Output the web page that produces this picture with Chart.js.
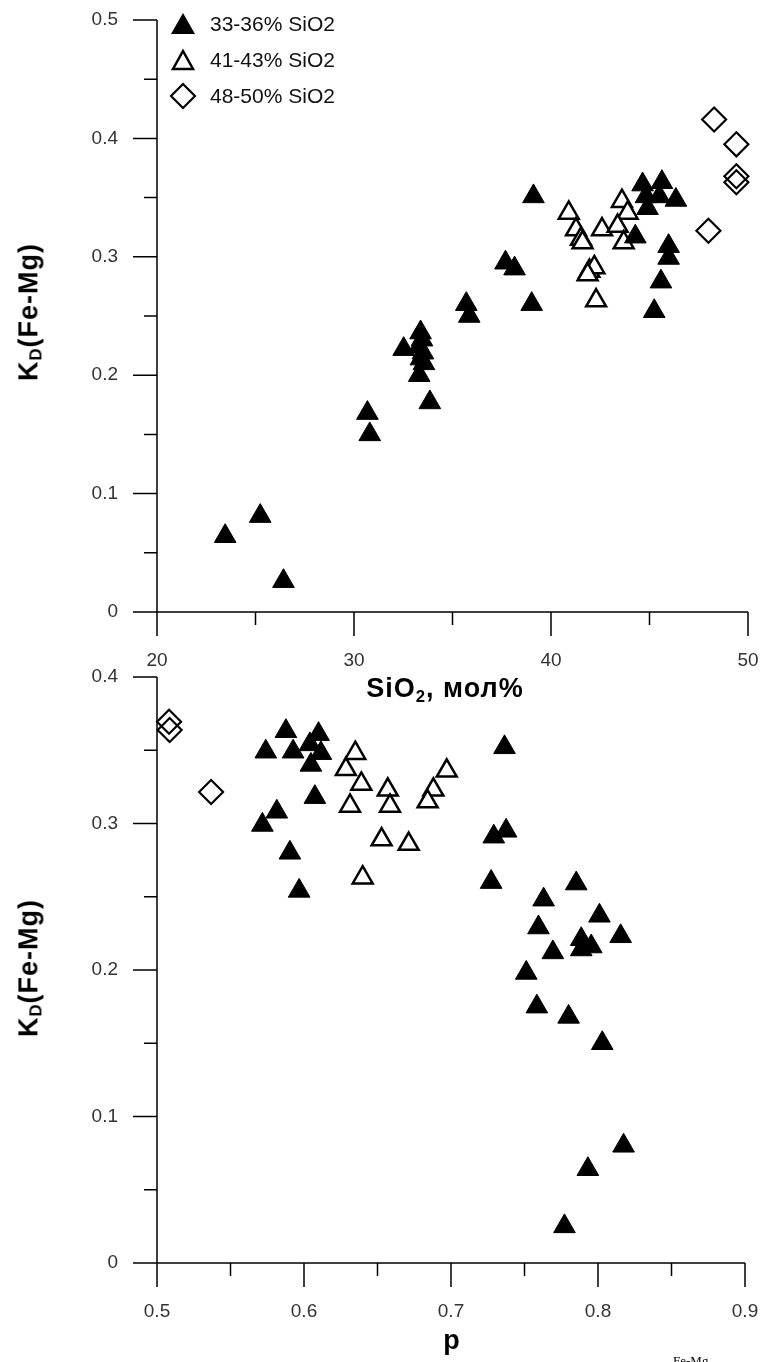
<!DOCTYPE html>
<html>
<head>
<meta charset="utf-8">
<script src="https://cdn.jsdelivr.net/npm/chart.js@4.4.1/dist/chart.umd.min.js"></script>
<style>
  html, body { margin: 0; padding: 0; background: #fff; }
  body { width: 766px; height: 1362px; position: relative; overflow: hidden; font-family: "Liberation Sans", Arial, sans-serif; }
  .wrap { position: absolute; left: 0; width: 766px; }
  .title { position: absolute; font-weight: bold; font-size: 27px; letter-spacing: 1px; color: #000; white-space: nowrap; transform: translate(-50%, -50%); }
  .title.rot { transform: translate(-50%, -50%) rotate(-90deg); }
  .title sub { font-size: 0.62em; vertical-align: -0.25em; }
  .legend { position: absolute; left: 168px; top: 6px; font-size: 21px; color: #111; }
  .legend div { height: 36px; display: flex; align-items: center; }
  .legend svg { width: 30px; height: 30px; margin-right: 12px; }
  .legend sub { font-size: 1em; vertical-align: -0.28em; line-height: 0; }
  .caption { position: absolute; left: 673px; top: 1353px; font-family: "Liberation Serif", serif; font-size: 13px; }
</style>
</head>
<body>
<div class="wrap" style="top:0;height:720px"><canvas id="top-chart"></canvas></div>
<div class="wrap" style="top:650px;height:712px"><canvas id="bottom-chart"></canvas></div>

<div class="legend">
  <div><svg viewBox="0 0 30 30"><polygon points="15,4 27,25 3,25" fill="#000"/></svg>33-36% SiO<sub>2</sub></div>
  <div><svg viewBox="0 0 30 30"><polygon points="15,6 25,24 5,24" fill="none" stroke="#000" stroke-width="2.5"/></svg>41-43% SiO<sub>2</sub></div>
  <div><svg viewBox="0 0 30 30"><polygon points="15,3 27,15 15,27 3,15" fill="none" stroke="#000" stroke-width="2.2"/></svg>48-50% SiO<sub>2</sub></div>
</div>

<div class="title rot" style="left:30px;top:312px">K<sub>D</sub>(Fe-Mg)</div>
<div class="title" style="left:445px;top:690px">SiO<sub>2</sub>, мол%</div>
<div class="title rot" style="left:30px;top:968px">K<sub>D</sub>(Fe-Mg)</div>
<div class="title" style="left:452px;top:1340px">p</div>
<div class="caption">Fe-Mg</div>

<script>
// --- data: top chart, SiO2 (mol%) vs KD --- //
const sio2Low = [23.46, 25.24, 26.42, 30.68, 30.80, 32.52, 33.38, 33.45, 33.30, 33.50, 33.40, 33.55, 33.31, 33.85, 35.70, 35.85,
  37.69, 38.15, 39.11, 39.02, 44.65, 45.63, 44.82, 44.90, 45.50, 46.34, 44.28, 45.97, 45.97, 45.58, 45.24];
const kdLowTop = [0.064, 0.081, 0.026, 0.168, 0.150, 0.222, 0.236, 0.230, 0.224, 0.219, 0.214, 0.210, 0.200, 0.177, 0.260, 0.250,
  0.295, 0.290, 0.351, 0.260, 0.361, 0.363, 0.351, 0.341, 0.351, 0.348, 0.317, 0.309, 0.299, 0.279, 0.254];

const sio2Mid = [40.90, 41.27, 41.52, 41.60, 43.60, 43.89, 42.59, 43.38, 43.69, 41.95, 42.20, 41.86, 42.29];
const kdMidTop = [0.337, 0.323, 0.315, 0.312, 0.347, 0.337, 0.323, 0.326, 0.312, 0.288, 0.291, 0.285, 0.263];

const sio2High = [48.28, 49.41, 49.41, 49.41, 47.99];
const kdHighTop = [0.416, 0.395, 0.368, 0.363, 0.322];

// --- data: bottom chart, p vs KD --- //
const pLow = [0.5877, 0.574, 0.5926, 0.6099, 0.604, 0.6115, 0.6047, 0.6074, 0.5815, 0.5717, 0.5904, 0.5967,
  0.7364, 0.7375, 0.7291, 0.7273, 0.7852, 0.763, 0.801, 0.7595, 0.7886, 0.7954, 0.7886, 0.8154, 0.7693,
  0.7512, 0.7584, 0.78, 0.8029, 0.8174, 0.7931, 0.7772];
const kdLowBottom = [0.363, 0.349, 0.349, 0.361, 0.354, 0.348, 0.340, 0.318, 0.308, 0.299, 0.280, 0.254,
  0.352, 0.295, 0.291, 0.260, 0.259, 0.248, 0.237, 0.229, 0.221, 0.216, 0.214, 0.223, 0.212,
  0.198, 0.175, 0.168, 0.150, 0.080, 0.064, 0.025];

const pMid = [0.6349, 0.6285, 0.639, 0.657, 0.6585, 0.6313, 0.688, 0.6841, 0.6971, 0.6528, 0.6712, 0.6399];
const kdMidBottom = [0.348, 0.337, 0.327, 0.323, 0.312, 0.312, 0.323, 0.315, 0.336, 0.289, 0.286, 0.263];

const pHigh = [0.5082, 0.5086, 0.5368];
const kdHighBottom = [0.3695, 0.3638, 0.3215];

const seriesLabels = ['33-36% SiO2', '41-43% SiO2', '48-50% SiO2'];

function toPoints(xs, ys) {
  return xs.map((x, i) => ({ x: x, y: ys[i] }));
}

function makeDatasets(lowX, lowY, midX, midY, highX, highY) {
  return [
    {
      label: seriesLabels[0],
      data: toPoints(lowX, lowY),
      pointStyle: 'triangle',
      pointRadius: 12.5,
      backgroundColor: '#000',
      borderColor: '#000',
      borderWidth: 1,
      clip: false
    },
    {
      label: seriesLabels[1],
      data: toPoints(midX, midY),
      pointStyle: 'triangle',
      pointRadius: 11.5,
      backgroundColor: '#fff',
      borderColor: '#000',
      borderWidth: 2.5,
      clip: false
    },
    {
      label: seriesLabels[2],
      data: toPoints(highX, highY),
      pointStyle: 'rectRot',
      pointRadius: 12,
      backgroundColor: 'rgba(255,255,255,0)',
      borderColor: '#000',
      borderWidth: 2.2,
      clip: false
    }
  ];
}

// axis lines with outward major / minor tick marks
const axisTicks = {
  id: 'axisTicks',
  afterDraw(chart, args, opts) {
    const { ctx, chartArea } = chart;
    const x = chart.scales.x;
    const y = chart.scales.y;
    ctx.save();
    ctx.strokeStyle = '#000';
    ctx.lineWidth = 1.5;
    ctx.beginPath();
    ctx.moveTo(chartArea.left, chartArea.top);
    ctx.lineTo(chartArea.left, chartArea.bottom);
    ctx.lineTo(chartArea.right, chartArea.bottom);

    const nx = Math.round((x.max - x.min) / opts.xMinor);
    for (let i = 0; i <= nx; i++) {
      const px = x.getPixelForValue(x.min + i * opts.xMinor);
      const len = i % 2 === 0 ? 24 : 13;
      ctx.moveTo(px, chartArea.bottom);
      ctx.lineTo(px, chartArea.bottom + len);
    }
    const ny = Math.round((y.max - y.min) / opts.yMinor);
    for (let i = 0; i <= ny; i++) {
      const py = y.getPixelForValue(y.min + i * opts.yMinor);
      const len = i % 2 === 0 ? 24 : 13;
      ctx.moveTo(chartArea.left, py);
      ctx.lineTo(chartArea.left - len, py);
    }
    ctx.stroke();
    ctx.restore();
  }
};

const tickFont = { family: '"Liberation Sans", Arial, sans-serif', size: 19 };

function scatterChart(canvasId, datasets, xRange, yRange, padding, xAxisHeight, minorSteps) {
  return new Chart(
    document.getElementById(canvasId),
    {
      type: 'scatter',
      data: { datasets: datasets },
      options: {
        responsive: true,
        maintainAspectRatio: false,
        animation: false,
        layout: { padding: padding },
        plugins: {
          legend: { display: false },
          tooltip: { enabled: false },
          axisTicks: minorSteps
        },
        scales: {
          x: {
            type: 'linear',
            min: xRange[0],
            max: xRange[1],
            // invisible tick length only spaces the labels away from the axis
            grid: { display: false, drawTicks: true, tickLength: 37 },
            border: { display: false },
            ticks: { stepSize: xRange[2], color: '#333', font: tickFont, padding: 0, maxRotation: 0 },
            afterFit: (scale) => { scale.height = xAxisHeight; }
          },
          y: {
            type: 'linear',
            min: yRange[0],
            max: yRange[1],
            grid: { display: false, drawTicks: true, tickLength: 39 },
            border: { display: false },
            ticks: { stepSize: yRange[2], color: '#333', font: tickFont, padding: 0 },
            afterFit: (scale) => { scale.width = 157; }
          }
        }
      },
      plugins: [axisTicks]
    }
  );
}

scatterChart(
  'top-chart',
  makeDatasets(sio2Low, kdLowTop, sio2Mid, kdMidTop, sio2High, kdHighTop),
  [20, 50, 10],
  [0, 0.5, 0.1],
  { top: 20, right: 18, left: 0, bottom: 0 },
  108,
  { xMinor: 5, yMinor: 0.05 }
);

scatterChart(
  'bottom-chart',
  makeDatasets(pLow, kdLowBottom, pMid, kdMidBottom, pHigh, kdHighBottom),
  [0.5, 0.9, 0.1],
  [0, 0.4, 0.1],
  { top: 27, right: 21, left: 0, bottom: 0 },
  99,
  { xMinor: 0.05, yMinor: 0.05 }
);
</script>
</body>
</html>
